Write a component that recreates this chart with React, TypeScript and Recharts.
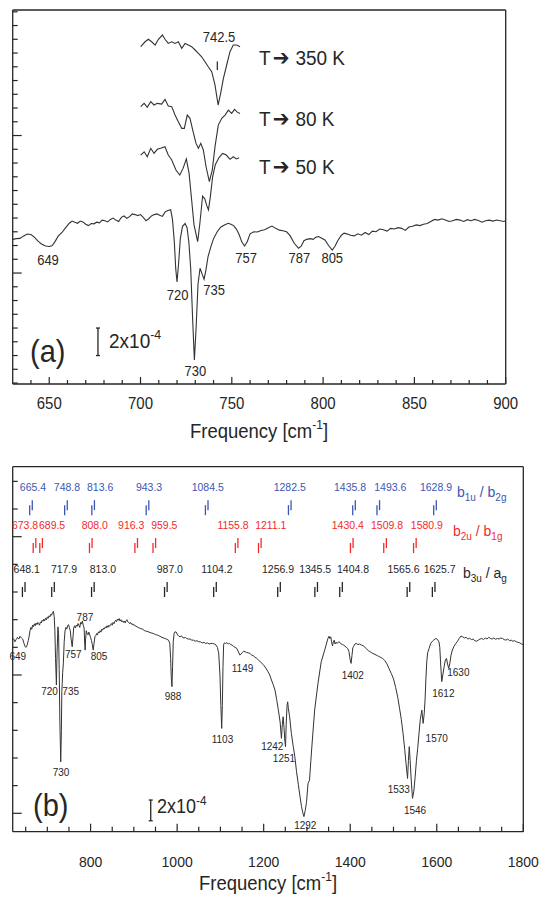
import React from "react";
import { ComposedChart, Line, Scatter, XAxis, YAxis, ReferenceLine } from "recharts";

const FONT = "'Liberation Sans', Arial, Helvetica, sans-serif";
const INK = "#262626";
const CURVE = "#333333";
const BLUE = "#3b57b3";
const RED = "#f32a2a";

// ---------- panel (a): signal in units of 1e-4 vs frequency [cm-1]
const specA: [number, number][] = [
  [630, 12.45], [632, 12.5], [634, 12.52], [636, 12.7], [638, 12.84], [640, 12.8], [642, 12.6], [644, 12.3],
  [646, 12.1], [648, 11.96], [650, 11.93], [651.5, 11.98], [653, 12.25], [655, 12.7], [657, 12.95], [659, 13.3],
  [661, 13.62], [662.5, 13.78], [664, 13.7], [665.5, 13.62], [667, 13.78], [668.5, 13.72], [670, 13.55],
  [671.5, 13.45], [673, 13.6], [674.5, 13.58], [676, 13.7], [677.5, 13.65], [679, 13.85], [680.5, 13.8],
  [682, 13.72], [683.5, 13.9], [685, 14.0], [686.5, 13.85], [688, 13.75], [689.5, 14.05], [691, 14.15],
  [692.5, 13.98], [694, 14.1], [695.5, 14.3], [697, 14.25], [698.5, 14.18], [700, 14.25], [701.5, 14.05],
  [703, 13.8], [704.5, 13.95], [706, 14.15], [707.5, 14.25], [709, 14.3], [710.5, 14.2], [712, 14.12],
  [713.5, 14.45], [715, 14.55], [716.5, 14.6], [717.5, 13.9], [718.5, 12.3], [719.3, 10.3], [720, 9.35],
  [720.8, 10.6], [721.8, 12.5], [723, 13.4], [724.4, 13.6], [725.5, 13.3], [726.5, 12.2], [727.5, 10.3],
  [728.5, 6.8], [729.5, 3.67], [730.4, 5.9], [731.5, 9.2], [732.6, 10.35], [733.8, 9.9], [734.8, 9.55],
  [735.8, 10.2], [737, 11.2], [738.5, 11.9], [740, 12.5], [742, 13.0], [744, 13.35], [746, 13.5], [748, 13.62],
  [749.5, 13.55], [751, 13.45], [752.5, 13.2], [754, 12.8], [755.5, 12.25], [757, 11.96], [758.5, 12.3],
  [760, 12.85], [762, 13.0], [764, 12.98], [766, 13.1], [768, 13.15], [770, 13.3], [772, 13.42], [774, 13.25],
  [776, 13.12], [778, 13.08], [780, 13.0], [782, 12.7], [784, 12.2], [786.5, 11.8], [788, 11.95], [789.5, 12.35],
  [791, 12.45], [793, 12.5], [794.5, 12.45], [796, 12.6], [797.5, 12.65], [799, 12.55], [801, 12.4], [803, 12.0],
  [805, 11.67], [806.5, 11.95], [808, 12.35], [810, 12.75], [811.5, 12.9], [813, 12.85], [815, 12.75],
  [817, 12.7], [819, 12.85], [821, 12.75], [823, 12.95], [825, 12.8], [827, 13.05], [829, 13.0], [831, 13.2],
  [833, 13.15], [835, 13.05], [837, 13.25], [839, 13.2], [841, 13.3], [843, 13.25], [845, 13.1], [847, 13.35],
  [849, 13.4], [851, 13.5], [853, 13.45], [855, 13.55], [857, 13.6], [859, 13.75], [861, 13.9], [863, 13.85],
  [865, 13.95], [867, 13.85], [869, 13.75], [871, 13.8], [873, 13.9], [875, 13.85], [877, 13.75], [879, 13.88],
  [881, 13.8], [883, 13.9], [885, 13.82], [887, 13.7], [889, 13.8], [891, 13.85], [893, 13.78], [895, 13.86],
  [897, 13.8], [899, 13.75], [900, 13.8],
];

const spec350: [number, number][] = [
  [700.1, 26.46], [702.5, 26.82], [704.3, 27.0], [706.1, 26.82], [708, 26.58], [709.8, 27.0], [712, 27.31],
  [713.4, 27.0], [715.2, 26.7], [717.1, 26.82], [718.9, 26.7], [720.7, 26.82], [722.6, 26.34], [724.4, 26.7],
  [726.2, 26.58], [728, 26.46], [729.9, 26.22], [731.7, 25.98], [733.5, 25.73], [735.3, 25.37], [737.1, 25.0],
  [739, 24.64], [740.8, 23.67], [742.5, 22.22], [743.9, 23.07], [745.4, 24.16], [747.2, 25.13], [749, 26.1],
  [750.8, 26.58], [752.7, 26.58], [754.5, 26.46],
];

const spec80: [number, number][] = [
  [700.1, 22.1], [702, 22.34], [703.7, 22.05], [705.6, 22.46], [707.4, 22.22], [709.2, 22.34], [711.6, 22.29],
  [713.4, 22.63], [715.2, 22.15], [717.1, 22.1], [718.9, 21.49], [720.7, 21.0], [722.6, 20.52], [724, 20.52],
  [725.6, 21.49], [727.1, 21.25], [728.6, 20.4], [730.4, 19.43], [731.7, 19.07], [733, 19.43], [734.4, 18.95],
  [735.9, 17.73], [737.7, 16.64], [739.3, 17.49], [740.8, 19.19], [742.6, 20.76], [744.5, 21.25], [746.3, 21.49],
  [748.1, 21.85], [749.9, 21.61], [751.5, 21.9], [753, 21.7], [754.5, 21.6],
];

const spec50: [number, number][] = [
  [700.1, 18.58], [702, 18.82], [703.7, 18.46], [705.6, 19.07], [707.4, 18.7], [709.2, 19.0], [711, 19.07],
  [713.4, 19.19], [715.2, 18.58], [717.1, 18.22], [719.4, 17.49], [721.5, 17.13], [723.3, 17.61], [725.1, 18.3],
  [726.6, 17.25], [728, 15.31], [729.3, 13.5], [731.3, 12.28], [732.5, 13.6], [734, 15.6], [735.2, 15.4],
  [736.3, 14.9], [737.2, 14.6], [738.2, 15.5], [739.5, 17.0], [741, 17.9], [743, 18.4], [745, 18.7],
  [747, 18.58], [749, 18.27], [750.8, 18.46], [752.5, 18.3], [754, 18.38],
];

const peaksA = [649, 720, 730, 735, 757, 787, 805];
const tempValues = ["350", "80", "50"];

// ---------- panel (b)
const specB: [number, number][] = [
  [622, 6.32], [625, 6.2], [628, 6.28], [631, 6.36], [634, 6.3], [637, 6.4], [640, 6.34], [643, 6.3], [646, 6.15],
  [648, 6.05], [650, 6.0], [652, 6.02], [654, 6.12], [656, 6.25], [658, 6.4], [660, 6.6], [662, 6.72], [664, 6.65],
  [666, 6.8], [668, 6.74], [670, 6.85], [672, 6.78], [674, 6.88], [676, 6.82], [678, 6.9], [680, 6.86], [682, 6.8],
  [684, 6.92], [686, 6.88], [688, 6.98], [690, 6.94], [692, 7.02], [694, 6.96], [696, 7.06], [698, 7.0], [700, 7.1],
  [702, 7.05], [704, 7.14], [706, 7.1], [708, 7.2], [710, 7.16], [712, 7.26], [714, 7.3], [716, 7.1], [717.5, 6.6],
  [719, 5.6], [721, 4.64], [722.5, 5.8], [724.5, 6.74], [726, 6.5], [727.5, 5.2], [729, 3.3], [731, 1.86],
  [732.5, 3.0], [733.5, 4.4], [734.5, 4.7], [735.5, 5.1], [737, 5.4], [739, 6.2], [741, 6.6], [743, 6.72],
  [745, 6.66], [747, 6.78], [749, 6.82], [751, 6.72], [753, 6.6], [755, 6.3], [757.5, 6.02], [759.5, 6.4],
  [761, 6.7], [763, 6.78], [765, 6.7], [767, 6.8], [769, 6.76], [771, 6.86], [773, 6.8], [775, 6.72], [777, 6.9],
  [779, 6.84], [781, 6.95], [783, 6.8], [785, 6.7], [786.5, 6.1], [787.5, 5.9], [788.5, 6.3], [790, 6.6],
  [792, 6.5], [794, 6.45], [796, 6.55], [798, 6.45], [800, 6.35], [802, 6.25], [804, 6.1], [806, 5.9], [808, 6.15],
  [810, 6.38], [812, 6.42], [814, 6.5], [816, 6.45], [818, 6.56], [820, 6.52], [822, 6.6], [824, 6.55],
  [826, 6.66], [828, 6.62], [830, 6.7], [832, 6.66], [834, 6.74], [836, 6.7], [838, 6.78], [840, 6.72], [842, 6.8],
  [844, 6.76], [846, 6.82], [848, 6.86], [850, 6.8], [852, 6.9], [854, 6.85], [856, 6.94], [858, 6.98],
  [860, 6.92], [862, 7.02], [864, 6.98], [866, 7.04], [868, 6.95], [870, 7.0], [872, 6.92], [874, 6.96],
  [876, 6.9], [878, 6.95], [880, 6.88], [882, 6.96], [884, 7.0], [886, 6.92], [888, 6.9], [890, 6.86], [892, 6.9],
  [894, 6.84], [896, 6.86], [898, 6.8], [900, 6.82], [905, 6.76], [910, 6.72], [915, 6.68], [920, 6.66],
  [925, 6.6], [930, 6.58], [935, 6.55], [940, 6.52], [945, 6.5], [950, 6.46], [955, 6.44], [960, 6.4],
  [965, 6.36], [970, 6.33], [975, 6.3], [980, 6.26], [983, 6.15], [985, 5.6], [986.5, 4.9], [988, 4.58],
  [989.5, 5.3], [991, 6.2], [993, 6.5], [995, 6.56], [998, 6.55], [1001, 6.45], [1004, 6.4], [1007, 6.38],
  [1010, 6.42], [1013, 6.35], [1016, 6.34], [1019, 6.36], [1022, 6.32], [1026, 6.3], [1030, 6.3], [1034, 6.26],
  [1038, 6.26], [1042, 6.22], [1046, 6.24], [1050, 6.2], [1054, 6.2], [1058, 6.16], [1062, 6.18], [1066, 6.14],
  [1070, 6.16], [1074, 6.12], [1078, 6.14], [1082, 6.14], [1086, 6.12], [1090, 6.08], [1093, 6.0], [1096, 5.8],
  [1099, 5.0], [1101, 3.9], [1103, 3.07], [1104.5, 3.9], [1106, 5.3], [1107.5, 6.1], [1109, 6.16], [1112, 6.14],
  [1115, 6.17], [1118, 6.12], [1121, 6.14], [1124, 6.1], [1127, 6.08], [1130, 6.04], [1134, 6.0], [1138, 5.96],
  [1141, 5.86], [1145, 5.72], [1148, 5.76], [1151, 5.82], [1154, 5.86], [1157, 5.84], [1160, 5.82], [1164, 5.8],
  [1168, 5.78], [1172, 5.72], [1176, 5.7], [1180, 5.64], [1184, 5.6], [1188, 5.54], [1192, 5.48], [1196, 5.42],
  [1200, 5.36], [1205, 5.25], [1210, 5.12], [1214, 5.0], [1218, 4.82], [1222, 4.65], [1226, 4.46], [1230, 4.12],
  [1234, 3.73], [1238, 3.3], [1241, 2.71], [1243, 3.2], [1245, 3.49], [1247, 3.1], [1249, 2.6], [1250.5, 2.41],
  [1252, 3.2], [1254, 3.9], [1255.5, 4.03], [1257, 3.8], [1260, 3.49], [1264, 2.89], [1268, 2.45], [1272, 2.05],
  [1276, 1.5], [1280, 1.05], [1284, 0.6], [1287.5, 0.24], [1290.5, 0.02], [1293, -0.12], [1296, 0.1],
  [1299, 0.4], [1302.5, 1.08], [1306, 1.2], [1309, 1.9], [1312.5, 2.65], [1317.8, 3.73], [1325.5, 4.7],
  [1333, 5.48], [1341, 5.9], [1348.5, 6.32], [1351, 6.4], [1353, 6.32], [1355, 6.38], [1357, 6.2], [1359, 6.05],
  [1361, 6.2], [1363, 6.26], [1365, 6.12], [1367, 6.18], [1370, 6.14], [1373, 6.2], [1376, 6.18], [1379, 6.12],
  [1382, 6.1], [1385, 6.08], [1388, 6.04], [1391, 6.0], [1394, 5.96], [1397, 5.85], [1400, 5.55], [1402, 5.42],
  [1404, 5.7], [1406, 5.98], [1408, 6.04], [1411, 6.12], [1414, 6.14], [1418, 6.1], [1422, 6.12], [1426, 6.08],
  [1430, 6.06], [1434, 6.0], [1438, 5.94], [1442, 5.88], [1446, 5.84], [1450, 5.8], [1455, 5.76], [1460, 5.72],
  [1465, 5.68], [1470, 5.64], [1475, 5.6], [1480, 5.52], [1485, 5.4], [1490, 5.22], [1495, 5.05], [1500, 4.86],
  [1505, 4.55], [1510, 4.18], [1514, 3.8], [1518, 3.4], [1522, 2.9], [1526, 2.3], [1529, 1.8], [1532.5, 1.26],
  [1534.5, 1.9], [1536.5, 2.41], [1538.5, 1.9], [1541, 1.2], [1544, 0.54], [1547, 0.8], [1550, 1.3], [1553, 1.9],
  [1556, 2.35], [1559, 2.9], [1562, 3.4], [1565.5, 3.73], [1568.5, 3.25], [1571, 3.6], [1573, 4.1], [1575, 4.9],
  [1577, 5.5], [1579, 5.8], [1582, 5.95], [1586, 6.14], [1590, 6.22], [1594, 6.28], [1598, 6.32], [1602, 6.28],
  [1605, 6.2], [1607, 6.0], [1609, 5.4], [1611.5, 4.76], [1614, 5.0], [1617, 5.3], [1620, 5.55], [1622.5, 5.6],
  [1625, 5.4], [1627.5, 5.24], [1630, 5.4], [1633, 5.72], [1636, 5.9], [1640, 6.04], [1644, 6.14], [1648, 6.22],
  [1652, 6.32], [1656, 6.41], [1660, 6.38], [1664, 6.34], [1668, 6.36], [1672, 6.3], [1676, 6.33], [1680, 6.28],
  [1684, 6.3], [1688, 6.24], [1692, 6.22], [1696, 6.26], [1700, 6.3], [1704, 6.32], [1708, 6.28], [1712, 6.34],
  [1716, 6.3], [1720, 6.36], [1724, 6.32], [1728, 6.3], [1732, 6.34], [1736, 6.29], [1740, 6.32], [1744, 6.3],
  [1748, 6.34], [1752, 6.32], [1756, 6.28], [1760, 6.26], [1764, 6.3], [1768, 6.24], [1772, 6.26], [1776, 6.22],
  [1780, 6.24], [1784, 6.2], [1788, 6.18], [1792, 6.16], [1796, 6.12], [1800, 6.1],
];

const peaksB = [649, 720, 730, 735, 757, 787, 805, 988, 1103, 1149, 1242, 1251, 1292, 1402, 1533, 1546, 1570, 1612, 1630];

// calculated modes
const modesB1u = [665.4, 748.8, 813.6, 943.3, 1084.5, 1282.5, 1435.8, 1493.6, 1628.9];
const modesB2u = [673.8, 689.5, 808.0, 916.3, 959.5, 1155.8, 1211.1, 1430.4, 1509.8, 1580.9];
const modesB3u = [648.1, 717.9, 813.0, 987.0, 1104.2, 1256.9, 1345.5, 1404.8, 1565.6, 1625.7];

// ticks
const xTicksA = [640, 650, 660, 670, 680, 690, 700, 710, 720, 730, 740, 750, 760, 770, 780, 790, 800, 810, 820, 830, 840, 850, 860, 870, 880, 890, 900];
const yTicksA = [2, 3, 4, 5, 6, 7, 8, 9, 10, 11, 12, 13, 14, 15, 16, 17, 18, 19, 20, 21, 22, 23, 24, 25, 26, 27, 28, 29];
const xTicksB = [650, 700, 750, 800, 850, 900, 950, 1000, 1050, 1100, 1150, 1200, 1250, 1300, 1350, 1400, 1450, 1500, 1550, 1600, 1650, 1700, 1750, 1800];
const topTicksMeV = [84, 92, 100, 108, 116, 124, 132, 140, 148, 156, 164, 172, 180, 188, 196, 204, 212, 220];
const yTicksB = [0, 1, 2, 3, 4, 5, 6, 7, 8, 9, 10, 11, 12];

// ---------- layout (pixel offsets, kept apart from data)
const LABEL_A: Record<number, [number, number]> = {
  649: [0.6, 18.5], 720: [0.5, 18], 730: [0, 16], 735: [9.6, 16], 757: [1.6, 17], 787: [0, 14.7], 805: [0, 13],
};
const LABEL_B: Record<number, [number, number]> = {
  649: [-7.5, 12.7], 720: [-6.5, 10], 730: [0.7, 14.2], 735: [8.2, 3.5], 757: [1.3, 11.3], 787: [0, -29],
  805: [6.3, 10], 988: [1.1, 13.4], 1103: [0.8, 14.6], 1149: [0.9, 17.8], 1242: [-9.6, 11.7], 1251: [-1.8, 15.4],
  1292: [1.8, 12.3], 1402: [1.7, 15.7], 1533: [-9, 14.3], 1546: [1.6, 15.6], 1570: [12.9, 18.3], 1612: [1.4, 15.1],
  1630: [8.6, 11.7],
};
const TEMP_OFFSETS: [number, number][] = [[19, 18], [19, 12.5], [20, 16]];
const ROW_LEVEL = [11.05, 9.68, 8.09];
const DX_B1U = [2, 1, 7, 1.5, 1, 0, -4, 12, 1];
const DX_B2U = [-9.5, 11, 4, -5, 10, -3.6, 11, -4, 2, 12];
const DX_B3U = [3, 11, 10, 4, 2, -1, -1, 12, -5, 6];

const pts = (a: [number, number][]) => a.map(([x, y]) => ({ x, y }));
const dipValue = (a: [number, number][], f: number) =>
  Math.min(...a.filter(([x]) => Math.abs(x - f) <= 2).map(([, y]) => y));

const SY = 1.1;

function SText({ x, y, size, anchor = "start", fill = INK, children }: any) {
  return (
    <text
      transform={`translate(${x} ${y}) scale(1 ${SY})`}
      fontSize={size}
      fontFamily={FONT}
      textAnchor={anchor}
      fill={fill}
    >
      {children}
    </text>
  );
}

const xTick =
  (dir: number, isMajor: (v: number) => boolean, minor: number, major: number, lab?: { dy: number; size: number }) =>
  (p: any) => {
    const v = p.payload.value;
    const m = isMajor(v);
    return (
      <g>
        <line x1={p.x} x2={p.x} y1={p.y} y2={p.y - dir * (m ? major : minor)} stroke={INK} strokeWidth={1.2} />
        {lab && m ? (
          <SText x={p.x} y={p.y + lab.dy} size={lab.size} anchor="middle">
            {v}
          </SText>
        ) : null}
      </g>
    );
  };

const yTick = (dir: number, isMajor: (v: number) => boolean, minor: number, major: number) => (p: any) => {
  const m = isMajor(p.payload.value);
  return <line x1={p.x} x2={p.x + dir * (m ? major : minor)} y1={p.y} y2={p.y} stroke={INK} strokeWidth={1.2} />;
};

const peakShape = (size: number, offs: Record<number, [number, number]>) => (p: any) => {
  const [dx, dy] = offs[p.payload.x] ?? [0, 15];
  return (
    <SText x={p.cx + dx} y={p.cy + dy} size={size} anchor="middle">
      {p.payload.label}
    </SText>
  );
};

const modeShape = (color: string, dxs: number[]) => (p: any) => {
  const { cx, cy } = p;
  const dx = dxs[p.payload.i] ?? 0;
  return (
    <g>
      <line x1={cx - 1.3} x2={cx - 1.3} y1={cy - 2.5} y2={cy + 7.5} stroke={color} strokeWidth={1.3} />
      <line x1={cx + 1.3} x2={cx + 1.3} y1={cy - 7.5} y2={cy + 2.5} stroke={color} strokeWidth={1.3} />
      <SText x={cx + dx} y={cy - 16.5} size={10.5} anchor="middle" fill={color}>
        {p.payload.label}
      </SText>
    </g>
  );
};

const axisLine = { stroke: INK, strokeWidth: 1.3 };

function PanelA() {
  const temps = [spec350, spec80, spec50];
  const tempData = temps.map((s, i) => {
    const [x, y] = s[s.length - 1];
    return { x, y, label: tempValues[i], i };
  });
  const peakData = peaksA.map((f) => ({ x: f, y: dipValue(specA, f), label: String(f) }));
  const majorA = (v: number) => v % 50 === 0;
  return (
    <ComposedChart width={541} height={450} margin={{ top: 9, right: 34.3, bottom: 6, left: 11.7 }}>
      <XAxis xAxisId="b" dataKey="x" type="number" domain={[630, 900]} ticks={xTicksA}
        interval={0} tickSize={0} tickMargin={0} height={60} axisLine={axisLine} tickLine={false}
        tick={xTick(1, majorA, 4, 7, { dy: 25, size: 15 })} />
      <XAxis xAxisId="t" orientation="top" dataKey="x" type="number" domain={[630, 900]}
        ticks={xTicksA} interval={0} tickSize={0} tickMargin={0} height={1} axisLine={axisLine} tickLine={false}
        tick={xTick(-1, majorA, 4, 7)} />
      <YAxis yAxisId="l" dataKey="y" type="number" domain={[1.93, 29.13]} ticks={yTicksA}
        interval={0} tickSize={0} tickMargin={0} width={1} axisLine={axisLine} tickLine={false}
        tick={yTick(1, (v) => v % 10 === 0, 5, 9)} />
      <YAxis yAxisId="r" orientation="right" dataKey="y" type="number" domain={[1.93, 29.13]}
        ticks={yTicksA} interval={0} tickSize={0} tickMargin={0} width={1} axisLine={axisLine} tickLine={false}
        tick={yTick(-1, (v) => v % 10 === 0, 5, 9)} />
      <Line xAxisId="b" yAxisId="l" data={pts(specA)} dataKey="y" type="linear" dot={false} stroke={CURVE}
        strokeWidth={1.1} isAnimationActive={false} />
      {temps.map((s, i) => (
        <Line key={i} xAxisId="b" yAxisId="l" data={pts(s)} dataKey="y" type="linear" dot={false} stroke={CURVE}
          strokeWidth={1.1} isAnimationActive={false} />
      ))}
      <ReferenceLine xAxisId="b" yAxisId="l" segment={[{ x: 676.7, y: 4 }, { x: 676.7, y: 6 }]} stroke={INK} strokeWidth={1.3} />
      <ReferenceLine xAxisId="b" yAxisId="l" segment={[{ x: 675.6, y: 4 }, { x: 677.8, y: 4 }]} stroke={INK} strokeWidth={1.3} />
      <ReferenceLine xAxisId="b" yAxisId="l" segment={[{ x: 675.6, y: 6 }, { x: 677.8, y: 6 }]} stroke={INK} strokeWidth={1.3} />
      <Scatter xAxisId="b" yAxisId="l" data={peakData} shape={peakShape(13, LABEL_A)} isAnimationActive={false} />
      <Scatter xAxisId="b" yAxisId="l" data={[{ x: 742.5, y: dipValue(spec350, 742.5), label: "742.5" }]}
        isAnimationActive={false}
        shape={(p: any) => (
          <g>
            <SText x={p.cx + 0.9} y={p.cy - 63.5} size={13} anchor="middle">{p.payload.label}</SText>
            <line x1={p.cx - 0.8} x2={p.cx - 0.8} y1={p.cy - 43.5} y2={p.cy - 35} stroke={INK} strokeWidth={1.2} />
          </g>
        )} />
      <Scatter xAxisId="b" yAxisId="l" data={tempData} isAnimationActive={false}
        shape={(p: any) => {
          const [dx, dy] = TEMP_OFFSETS[p.payload.i];
          return (
            <SText x={p.cx + dx} y={p.cy + dy} size={19}>
              T<tspan fontFamily="'DejaVu Sans'" fontSize={20} dx={2}>{"\u2794"}</tspan>
              <tspan dx={6}>{`${p.payload.label} K`}</tspan>
            </SText>
          );
        }} />
    </ComposedChart>
  );
}

function PanelB() {
  const peakData = peaksB.map((f) => ({ x: f, y: dipValue(specB, f), label: String(f) }));
  const rows = [modesB1u, modesB2u, modesB3u].map((m, r) =>
    m.map((f, i) => ({ x: f, y: ROW_LEVEL[r], i, label: f.toFixed(1) }))
  );
  const topTicks = topTicksMeV.map((m) => m * 8.0655);
  return (
    <ComposedChart width={541} height={447} margin={{ top: 15.7, right: 16.7, bottom: 5.3, left: 11.7 }}>
      <XAxis xAxisId="b" dataKey="x" type="number" domain={[620, 1800]} ticks={xTicksB}
        interval={0} tickSize={0} tickMargin={0} height={60} axisLine={axisLine} tickLine={false}
        tick={xTick(1, (v) => v % 200 === 0, 5, 8, { dy: 35, size: 14 })} />
      <XAxis xAxisId="t" orientation="top" dataKey="x" type="number" domain={[620, 1800]}
        ticks={topTicks} interval={0} tickSize={0} tickMargin={0} height={1} axisLine={axisLine} tickLine={false}
        tick={xTick(-1, () => false, 6, 6)} />
      <XAxis xAxisId="c" dataKey="x" type="number" domain={[621.8, 1839.5]} hide />
      <YAxis yAxisId="l" dataKey="y" type="number" domain={[-0.665, 12.53]} ticks={yTicksB}
        interval={0} tickSize={0} tickMargin={0} width={1} axisLine={axisLine} tickLine={false}
        tick={yTick(1, (v) => v % 5 === 0, 5, 9)} />
      <YAxis yAxisId="r" orientation="right" dataKey="y" type="number" domain={[-0.665, 12.53]}
        ticks={yTicksB} interval={0} tickSize={0} tickMargin={0} width={1} axisLine={axisLine} tickLine={false}
        tick={yTick(-1, (v) => v % 5 === 0, 5, 9)} />
      <Line xAxisId="b" yAxisId="l" data={pts(specB)} dataKey="y" type="linear" dot={false} stroke={CURVE}
        strokeWidth={1} isAnimationActive={false} />
      <ReferenceLine xAxisId="b" yAxisId="l" segment={[{ x: 939, y: -0.27 }, { x: 939, y: 0.48 }]} stroke={INK} strokeWidth={1.3} />
      <ReferenceLine xAxisId="b" yAxisId="l" segment={[{ x: 934.4, y: -0.27 }, { x: 943.6, y: -0.27 }]} stroke={INK} strokeWidth={1.3} />
      <ReferenceLine xAxisId="b" yAxisId="l" segment={[{ x: 934.4, y: 0.48 }, { x: 943.6, y: 0.48 }]} stroke={INK} strokeWidth={1.3} />
      <Scatter xAxisId="b" yAxisId="l" data={peakData} shape={peakShape(10, LABEL_B)} isAnimationActive={false} />
      <Scatter xAxisId="c" yAxisId="l" data={rows[0]} shape={modeShape(BLUE, DX_B1U)} isAnimationActive={false} />
      <Scatter xAxisId="c" yAxisId="l" data={rows[1]} shape={modeShape(RED, DX_B2U)} isAnimationActive={false} />
      <Scatter xAxisId="c" yAxisId="l" data={rows[2]} shape={modeShape(INK, DX_B3U)} isAnimationActive={false} />
    </ComposedChart>
  );
}

function Sup({ children, size }: any) {
  return <tspan fontSize={size * 0.65} dy={-size * 0.42}>{children}</tspan>;
}

function Overlay() {
  const sub = (t: string) => <tspan fontSize={10} dy={4}>{t}</tspan>;
  return (
    <svg width={541} height={897} style={{ position: "absolute", left: 0, top: 0, pointerEvents: "none" }}>
      <SText x={30} y={362} size={29}>(a)</SText>
      <SText x={33} y={816} size={29}>(b)</SText>
      <SText x={109} y={348} size={19}>2x10<Sup size={19}>-4</Sup></SText>
      <SText x={157} y={813} size={18}>2x10<Sup size={18}>-4</Sup></SText>
      <SText x={259} y={438} size={18.5} anchor="middle">
        Frequency [cm<Sup size={18.5}>-1</Sup><tspan dy={18.5 * 0.42}>]</tspan>
      </SText>
      <SText x={268} y={890} size={18.5} anchor="middle">
        Frequency [cm<Sup size={18.5}>-1</Sup><tspan dy={18.5 * 0.42}>]</tspan>
      </SText>
      <SText x={457} y={497} size={14} fill={BLUE}>
        b{sub("1u")}<tspan dy={-4}> / b</tspan>{sub("2g")}
      </SText>
      <SText x={453} y={536} size={14} fill={RED}>
        b{sub("2u")}<tspan dy={-4}> / b</tspan>{sub("1g")}
      </SText>
      <SText x={463} y={578} size={14} fill={INK}>
        b{sub("3u")}<tspan dy={-4}> / a</tspan>{sub("g")}
      </SText>
    </svg>
  );
}

export default function App() {
  return (
    <div style={{ position: "absolute", left: 0, top: 0, width: 541, height: 897, background: "#fff" }}>
      <div style={{ position: "absolute", left: 0, top: 0 }}>
        <PanelA />
      </div>
      <div style={{ position: "absolute", left: 0, top: 450 }}>
        <PanelB />
      </div>
      <Overlay />
    </div>
  );
}
